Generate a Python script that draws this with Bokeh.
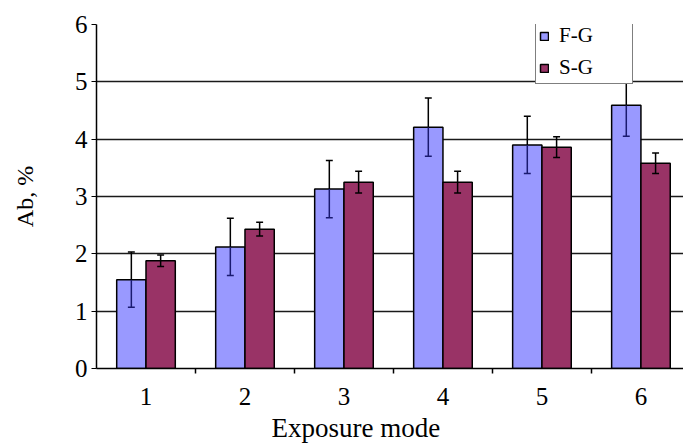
from bokeh.plotting import figure
from bokeh.models import FixedTicker, Range1d, Legend, LegendItem, Title
from bokeh.embed import file_html
from bokeh.resources import INLINE
import numpy as np

modes = [1, 2, 3, 4, 5, 6]
fg_values = [1.55, 2.12, 3.13, 4.21, 3.90, 4.59]
fg_errors = [0.48, 0.50, 0.50, 0.51, 0.50, 0.54]
sg_values = [1.88, 2.43, 3.25, 3.25, 3.86, 3.58]
sg_errors = [0.10, 0.12, 0.19, 0.19, 0.18, 0.18]
y_ticks = [0, 1, 2, 3, 4, 5, 6]
series_names = ["F-G", "S-G"]

FONT = "Liberation Serif"
BLUE = "#9999FF"
RED = "#993366"

p = figure(width=683, height=445, output_backend="svg", toolbar_location=None,
           x_range=Range1d(0.5, 6.43), y_range=Range1d(0, 6),
           min_border_left=96, min_border_top=24, min_border_right=0, min_border_bottom=76)
p.outline_line_color = None
p.background_fill_color = "white"
p.border_fill_color = "white"

x = np.array(modes, dtype=float)
off = 0.148
bw = 0.296
fg_x = x - off
sg_x = x + off
fg = np.array(fg_values); fge = np.array(fg_errors)
sg = np.array(sg_values); sge = np.array(sg_errors)

r_fg = p.vbar(x=fg_x, top=fg, width=bw, bottom=0, fill_color=BLUE, line_color="black", line_width=1.5)
r_sg = p.vbar(x=sg_x, top=sg, width=bw, bottom=0, fill_color=RED, line_color="black", line_width=1.5)

cap = 0.035
# F-G error bars: inner part navy, outer part black
p.segment(x0=fg_x, y0=fg - fge, x1=fg_x, y1=fg, line_color="#1a1a70", line_width=1.5)
p.segment(x0=fg_x, y0=fg, x1=fg_x, y1=fg + fge, line_color="black", line_width=1.5)
p.segment(x0=fg_x - cap, y0=fg + fge, x1=fg_x + cap, y1=fg + fge, line_color="black", line_width=1.5)
p.segment(x0=fg_x - cap, y0=fg - fge, x1=fg_x + cap, y1=fg - fge, line_color="#1a1a70", line_width=1.5)
# S-G error bars
p.segment(x0=sg_x, y0=sg - sge, x1=sg_x, y1=sg + sge, line_color="black", line_width=1.5)
p.segment(x0=sg_x - cap, y0=sg + sge, x1=sg_x + cap, y1=sg + sge, line_color="black", line_width=1.5)
p.segment(x0=sg_x - cap, y0=sg - sge, x1=sg_x + cap, y1=sg - sge, line_color="black", line_width=1.5)

# grid
p.xgrid.grid_line_color = None
p.ygrid.ticker = FixedTicker(ticks=y_ticks)
p.ygrid.grid_line_color = "#1a1a1a"
p.ygrid.grid_line_width = 1.5

# y axis
p.yaxis.ticker = FixedTicker(ticks=y_ticks)
p.yaxis.axis_line_color = "black"
p.yaxis.axis_line_width = 1.5
p.yaxis.major_tick_out = 5
p.yaxis.major_tick_in = 0
p.yaxis.minor_tick_line_color = None
p.yaxis.major_label_text_font = FONT
p.yaxis.major_label_text_font_size = "25px"
p.yaxis.major_label_text_color = "black"
p.yaxis.major_label_standoff = 4
p.yaxis.axis_label = "Ab, %"
p.yaxis.axis_label_text_font = FONT
p.yaxis.axis_label_text_font_size = "24px"
p.yaxis.axis_label_text_font_style = "normal"
p.yaxis.axis_label_text_color = "black"
p.yaxis.axis_label_standoff = 34

# x axis
p.xaxis.ticker = FixedTicker(ticks=modes, minor_ticks=[m + 0.5 for m in modes])
p.xaxis.major_label_overrides = {m: str(m) for m in modes}
p.xaxis.axis_line_color = "black"
p.xaxis.axis_line_width = 1.5
p.xaxis.major_tick_line_color = None
p.xaxis.major_tick_out = 0
p.xaxis.major_tick_in = 0
p.xaxis.minor_tick_line_color = "black"
p.xaxis.minor_tick_line_width = 1.5
p.xaxis.minor_tick_out = 5
p.xaxis.minor_tick_in = 0
p.xaxis.major_label_text_font = FONT
p.xaxis.major_label_text_font_size = "25px"
p.xaxis.major_label_text_color = "black"
p.xaxis.major_label_standoff = 14

p.add_layout(Title(text="Exposure mode", align="left", offset=175, text_font=FONT,
                   text_font_size="27px", text_font_style="normal", text_color="black",
                   standoff=6), "below")

legend = Legend(items=[LegendItem(label=series_names[0], renderers=[r_fg]),
                       LegendItem(label=series_names[1], renderers=[r_sg])],
                location=(439, 284), orientation="vertical")
legend.label_text_font = FONT
legend.label_text_font_size = "21px"
legend.label_text_color = "black"
legend.glyph_width = 10
legend.glyph_height = 10
legend.label_standoff = 10
legend.label_width = 70
legend.label_height = 24
legend.spacing = 7
legend.padding = 3
legend.margin = 0
legend.border_line_color = "black"
legend.border_line_width = 1.5
legend.background_fill_color = "white"
legend.background_fill_alpha = 1.0
p.add_layout(legend, "center")

open("out.html", "w").write(file_html(p, INLINE))
